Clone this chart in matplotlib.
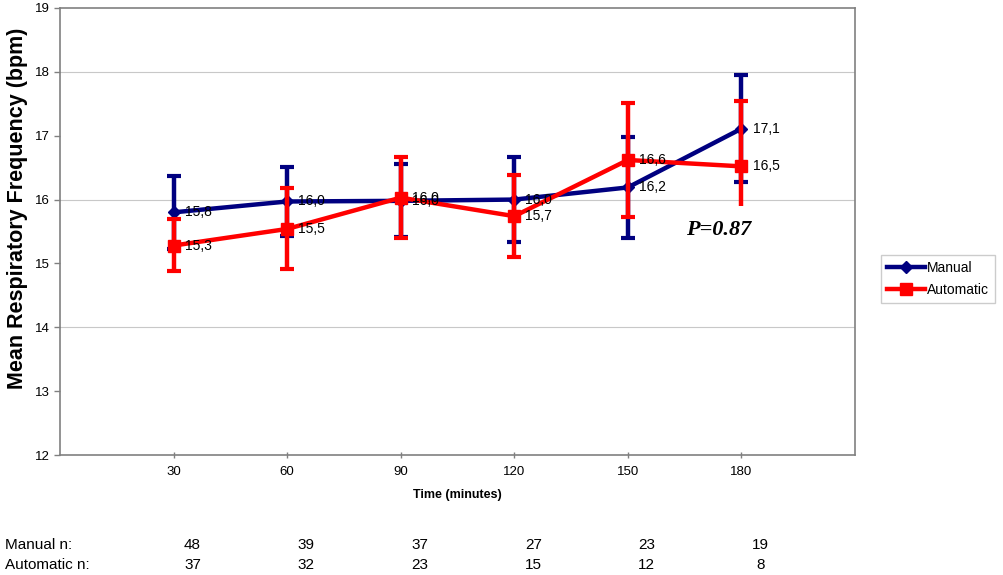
import numpy as np
import matplotlib
matplotlib.use('Agg')
import matplotlib.pyplot as plt
import matplotlib.transforms as mtransforms

plt.rcParams['font.family'] = ['Liberation Sans', 'DejaVu Sans']

times = [30, 60, 90, 120, 150, 180]
manual = [15.80, 15.97, 15.98, 16.00, 16.19, 17.11]
manual_err = [0.57, 0.54, 0.57, 0.67, 0.79, 0.84]
automatic = [15.28, 15.54, 16.03, 15.74, 16.62, 16.52]
auto_err_low = [0.40, 0.63, 0.63, 0.64, 0.89, 0.62]
auto_err_high = [0.42, 0.64, 0.64, 0.64, 0.89, 1.02]
manual_n = [48, 39, 37, 27, 23, 19]
automatic_n = [37, 32, 23, 15, 12, 8]

fig = plt.figure(figsize=(10.04, 5.75), dpi=100)
ax = fig.add_axes([60 / 1004, 1 - 455 / 575, 795 / 1004, 447 / 575])

navy = '#000080'
red = '#ff0000'

l1, caps1, _ = ax.errorbar(times, manual, yerr=manual_err, color=navy, lw=3.2,
                           marker='D', ms=6, elinewidth=3.2, capsize=5, capthick=3,
                           label='Manual', zorder=3)
l2, caps2, _ = ax.errorbar(times, automatic, yerr=[auto_err_low, auto_err_high], color=red, lw=3.2,
                           marker='s', ms=8, elinewidth=3.2, capsize=5, capthick=3,
                           label='Automatic', zorder=4)
# last automatic bar has no lower cap in the original
caps2[0].set_markevery([0, 1, 2, 3, 4])

for x, v in zip(times, manual):
    ax.annotate(f'{v:.1f}'.replace('.', ','), (x, v), xytext=(8, 0), textcoords='offset points',
                va='center', ha='left', fontsize=10, zorder=5)
for x, v in zip(times, automatic):
    ax.annotate(f'{v:.1f}'.replace('.', ','), (x, v), xytext=(8, 0), textcoords='offset points',
                va='center', ha='left', fontsize=10, zorder=5)

ax.text(174, 15.52, 'P=0.87', family='Liberation Serif', fontsize=16, fontweight='bold',
        style='italic', ha='center', va='center')

ax.set_xlim(0, 210)
ax.set_ylim(12, 19)
ax.set_xticks(times)
ax.set_yticks(range(12, 20))
ax.tick_params(axis='both', labelsize=9.5, length=4, color='#808080', width=1)
ax.tick_params(axis='x', direction='inout', pad=6)
for y in [14, 16, 18]:
    ax.axhline(y, color='#c8c8c8', lw=0.8, zorder=0)
for s in ax.spines.values():
    s.set_color('#808080')
    s.set_linewidth(1.2)

ax.set_xlabel('Time (minutes)', fontsize=9, fontweight='bold', labelpad=8)
fig.text(18 / 1004, 1 - 208 / 575, 'Mean Respiratory Frequency (bpm)', rotation=90,
         fontsize=15.5, fontweight='bold', ha='center', va='center')

fig.legend(handles=[l1, l2], labels=['Manual', 'Automatic'], loc='center left',
           bbox_to_anchor=(881 / 1004, 1 - 279 / 575), fontsize=10, frameon=True,
           fancybox=False, edgecolor='#c0c0c0', handlelength=2.7, borderpad=0.45,
           labelspacing=0.6, handletextpad=0.15, borderaxespad=0)

trans = mtransforms.blended_transform_factory(ax.transData, fig.transFigure)
fig.text(5 / 1004, 1 - 545 / 575, 'Manual n:', fontsize=11, va='center')
fig.text(5 / 1004, 1 - 565 / 575, 'Automatic n:', fontsize=11, va='center')
for x, a, b in zip(times, manual_n, automatic_n):
    ax.text(x + 5, 1 - 545 / 575, str(a), transform=trans, fontsize=11,
            ha='center', va='center')
    ax.text(x + 5, 1 - 565 / 575, str(b), transform=trans, fontsize=11,
            ha='center', va='center')

fig.savefig('out.png', dpi=100)
